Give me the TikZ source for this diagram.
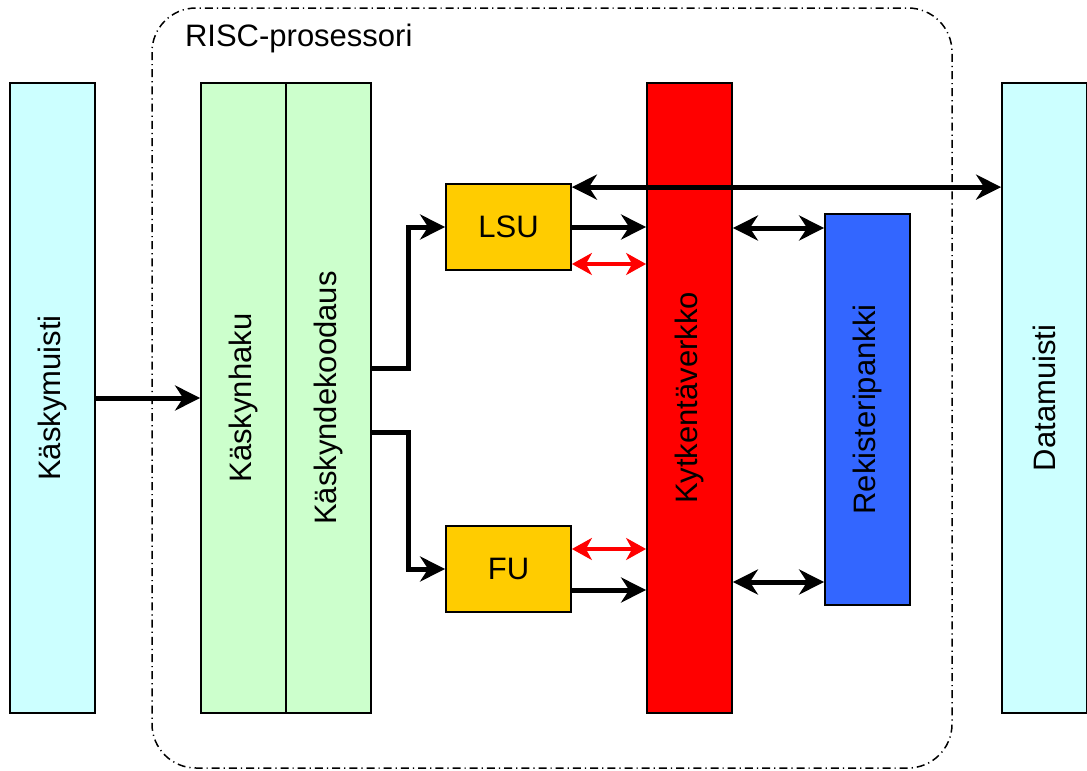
\documentclass[tikz,border=0pt]{standalone}
\usepackage{fontspec}
\setmainfont{Liberation Sans}
\usetikzlibrary{arrows.meta, positioning, calc}
\definecolor{muisti}{RGB}{204,255,255}
\definecolor{vaihe}{RGB}{204,255,204}
\definecolor{yksikko}{RGB}{255,204,0}
\definecolor{verkko}{RGB}{255,0,0}
\definecolor{pankki}{RGB}{51,102,255}
\tikzset{
	every node/.style={
		align=center,
		font=\fontsize{15.5}{18}\selectfont,
	},
	block-node/.style={
		rectangle,
		draw=black, line width=0.9pt,
		inner sep=0pt,
		anchor=center
	},
	tall-node/.style={
		block-node,
		minimum width=42.5pt,
		minimum height=315pt,
	},
	unit-node/.style={
		block-node,
		fill=yksikko,
		minimum width=62.5pt,
		minimum height=43pt,
	},
	edge-style/.style   = {line width=2.5pt, -{Stealth[length=12.5pt,width=12.5pt,inset=4pt]}},
	both-style/.style   = {line width=2.5pt, {Stealth[length=12.5pt,width=12.5pt,inset=4pt]}-{Stealth[length=12.5pt,width=12.5pt,inset=4pt]}},
	red-style/.style    = {line width=1.6pt, draw=verkko, {Stealth[length=10pt,width=11pt,inset=3pt]}-{Stealth[length=10pt,width=11pt,inset=3pt]}},
}
\begin{document}
\begin{tikzpicture}[x=0.5pt,y=-0.5pt]
	\useasboundingbox (0,0) rectangle (1087,771);
	% prosessorin raja
	\draw[line width=0.75pt, dash pattern=on 4pt off 2pt on 0.6pt off 2pt, rounded corners=22pt] (152,8) rectangle (952,768);
	\node (risc) [anchor=west] at (178,38) {RISC-prosessori};
	% lohkot
	\node (km) [tall-node, fill=muisti] at (52.5,398) {\rotatebox{90}{Käskymuisti}};
	\node (kh) [tall-node, fill=vaihe] at (243.5,398) {\rotatebox{90}{Käskynhaku}};
	\node (kd) [tall-node, fill=vaihe] at (328.5,398) {\rotatebox{90}{Käskyndekoodaus}};
	\node (lsu) [unit-node] at (508.5,227) {LSU};
	\node (fu) [unit-node] at (508.5,569) {FU};
	\node (kv) [tall-node, fill=verkko] at (689.5,398) {\rotatebox{90}{Kytkentäverkko}};
	\node (rp) [block-node, fill=pankki, minimum width=42.5pt, minimum height=195.5pt] at (867.5,409.5) {\rotatebox{90}{Rekisteripankki}};
	\node (dm) [tall-node, fill=muisti] at (1044.5,398) {\rotatebox{90}{Datamuisti}};
	% yhteydet
	\draw[edge-style] (km) -- (kh);
	\draw[edge-style] ($(kd.east)+(0,-30)$) -| ++(37,0) |- (lsu.west);
	\draw[edge-style] ($(kd.east)+(0,34)$) -| ++(37,0) |- (fu.west);
	\draw[edge-style] (lsu.east) -- (lsu.east -| kv.west);
	\draw[edge-style] ($(fu.east)+(0,21)$) -- ($(fu.east -| kv.west)+(0,21)$);
	\draw[red-style] ($(lsu.east)+(0,37)$) -- ($(lsu.east -| kv.west)+(0,37)$);
	\draw[red-style] ($(fu.east)+(0,-20)$) -- ($(fu.east -| kv.west)+(0,-20)$);
	\draw[both-style] ($(lsu.north east)+(0,4)$) -- ($(lsu.north east -| dm.west)+(0,4)$);
	\draw[both-style] ($(kv.east)+(0,-170)$) -- ($(kv.east -| rp.west)+(0,-170)$);
	\draw[both-style] ($(kv.east)+(0,184)$) -- ($(kv.east -| rp.west)+(0,184)$);
\end{tikzpicture}
\end{document}
